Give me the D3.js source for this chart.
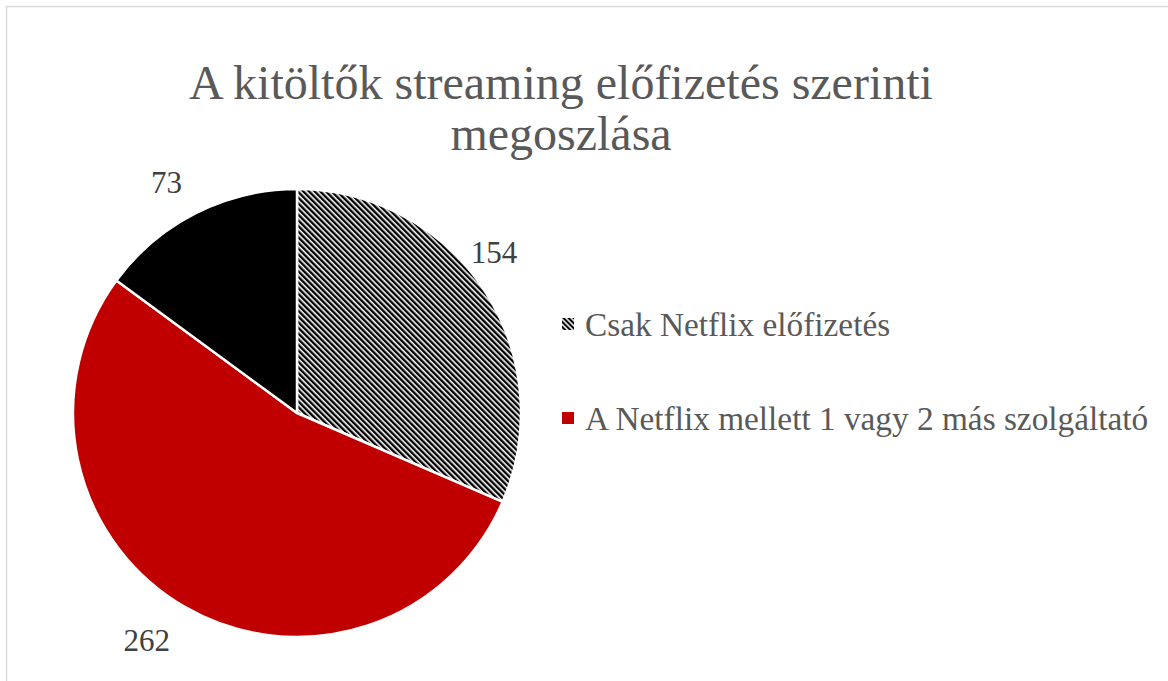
<!DOCTYPE html>
<html><head><meta charset="utf-8">
<script src="https://cdn.jsdelivr.net/npm/d3@7"></script>
<style>body{margin:0;background:#fff}svg{display:block}</style>
</head><body>
<svg id="c" width="1168" height="681"></svg>
<script>
const categories = ["Csak Netflix előfizetés", "A Netflix mellett 1 vagy 2 más szolgáltató", "Egyéb"];
const values = [154, 262, 73];
const legendItems = ["Csak Netflix előfizetés", "A Netflix mellett 1 vagy 2 más szolgáltató"];
const titleLines = ["A kitöltők streaming előfizetés szerinti", "megoszlása"];

const svg = d3.select("#c");
const W = 1168, H = 681;
const cx = 297, cy = 413, R = 224;
const fontFam = "'Liberation Serif','Times New Roman',serif";
const textCol = "#595959";

const defs = svg.append("defs");
const pat = defs.append("pattern").attr("id","hatch").attr("patternUnits","userSpaceOnUse")
  .attr("width",4).attr("height",4).attr("patternTransform","rotate(-45)");
pat.append("rect").attr("width",4).attr("height",4).attr("fill","#fff");
pat.append("rect").attr("width",2.4).attr("height",4).attr("fill","#000");
const pat2 = defs.append("pattern").attr("id","hatchS").attr("patternUnits","userSpaceOnUse")
  .attr("width",3.6).attr("height",3.6).attr("patternTransform","rotate(-45)");
pat2.append("rect").attr("width",3.6).attr("height",3.6).attr("fill","#fff");
pat2.append("rect").attr("width",2.1).attr("height",3.6).attr("fill","#000");

// border
svg.append("rect").attr("x",6.5).attr("y",6.5).attr("width",W).attr("height",H)
  .attr("fill","none").attr("stroke","#d9d9d9").attr("stroke-width",1.5);

const color = d3.scaleOrdinal().domain(categories).range(["url(#hatch)","#C00000","#000000"]);
const legendColor = d3.scaleOrdinal().domain(categories).range(["url(#hatchS)","#C00000","#000000"]);

const pie = d3.pie().sort(null).value(d => d.v);
const data = categories.map((c,i)=>({c, v: values[i]}));
const arcs = pie(data);
const arc = d3.arc().innerRadius(0).outerRadius(R);
const labelArc = d3.arc().innerRadius(R+38).outerRadius(R+38);
const nudge = {"Csak Netflix előfizetés":[-22,-17], "A Netflix mellett 1 vagy 2 más szolgáltató":[-20,0], "Egyéb":[-12,3]};

const g = svg.append("g").attr("transform",`translate(${cx},${cy})`);
g.selectAll("path").data(arcs).join("path")
  .attr("d",arc).attr("fill",d=>color(d.data.c))
  .attr("stroke","#fff").attr("stroke-width",2.5).attr("stroke-linejoin","round");

g.selectAll("text.lbl").data(arcs).join("text").attr("class","lbl")
  .attr("transform",d=>{const p=labelArc.centroid(d);const n=nudge[d.data.c]||[0,0];return `translate(${p[0]+n[0]},${p[1]+n[1]})`;})
  .attr("text-anchor","middle").attr("dy","0.35em")
  .attr("font-family",fontFam).attr("font-size",31).attr("fill","#404040")
  .text(d=>d.data.v);

// title
svg.append("text").attr("x",561).attr("y",99).attr("text-anchor","middle")
  .attr("font-family",fontFam).attr("font-size",48).attr("fill",textCol)
  .selectAll("tspan").data(titleLines).join("tspan")
  .attr("x",561).attr("dy",(d,i)=>i?51:0).text(d=>d);

// legend
const ly = d3.scalePoint().domain(legendItems).range([318,412]);
const lg = svg.append("g").selectAll("g").data(legendItems).join("g")
  .attr("transform",d=>`translate(562,${ly(d)})`);
lg.append("rect").attr("x",0).attr("y",0).attr("width",12).attr("height",12)
  .attr("fill",d=>legendColor(d));
lg.append("text").attr("x",23).attr("y",6).attr("dy","0.35em")
  .attr("font-family",fontFam).attr("font-size",33.3).attr("fill",textCol)
  .text(d=>d);
</script>
</body></html>
